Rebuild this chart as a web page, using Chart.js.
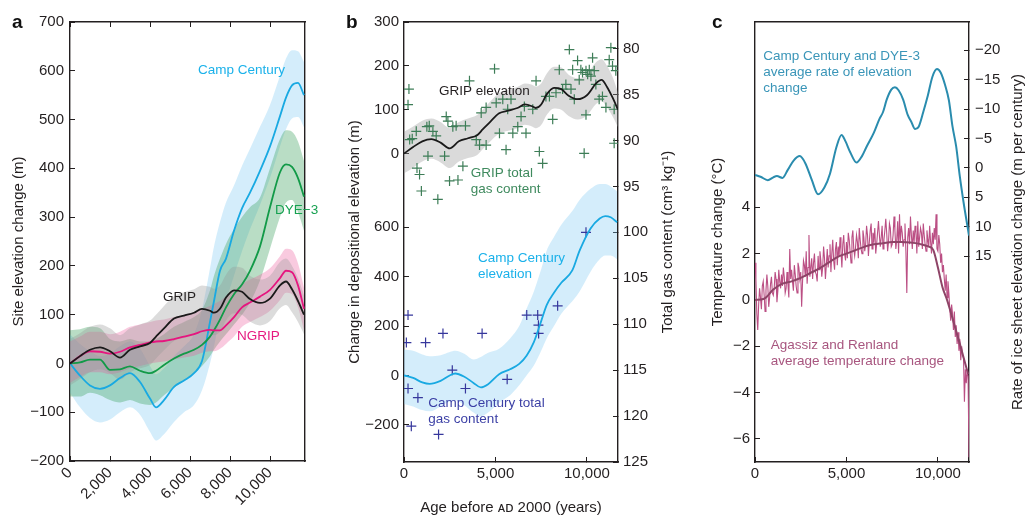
<!DOCTYPE html>
<html>
<head>
<meta charset="utf-8">
<script src="https://cdn.jsdelivr.net/npm/chart.js@4.4.1/dist/chart.umd.min.js"></script>
<style>
  body { margin: 0; background: #fff; width: 1027px; height: 517px; position: relative; overflow: hidden; }
  canvas { position: absolute; top: 0; }
  .tag { position: absolute; top: 12px; font: bold 19px 'Liberation Sans', Arial, sans-serif; line-height: 19px; color: #111; z-index: 2; }
</style>
</head>
<body>
<div class="tag" style="left:12px">a</div>
<div class="tag" style="left:346px">b</div>
<div class="tag" style="left:712px">c</div>
<canvas id="chartA" width="330" height="517" style="left:0"></canvas>
<canvas id="chartB" width="360" height="517" style="left:330px"></canvas>
<canvas id="chartC" width="337" height="517" style="left:690px"></canvas>
<script>
const FONT = "'Liberation Sans', Arial, Helvetica, sans-serif";
const INK = '#231f20';
Chart.defaults.font.family = FONT;
Chart.defaults.font.size = 15;
Chart.defaults.color = INK;
Chart.defaults.animation = false;

// ---- panel a: site elevation change ----
const aYears = [0, 500, 1000, 1500, 2000, 2500, 3000, 3500, 4000, 4300, 4700, 5200, 5700, 6200, 6600,
  7000, 7200, 7500, 7800, 8200, 8600, 9000, 9500, 10000, 10500, 10800, 11100, 11400, 11700];
const campCentury = [0, -25, -45, -52, -45, -30, -20, -38, -72, -90, -75, -48, -35, -20, 5,
  85, 128, 190, 215, 272, 318, 350, 395, 445, 507, 545, 570, 575, 550];
const ccUpper = [60, 40, 25, 15, 20, 35, 45, 30, -5, -22, -10, 15, 35, 60, 110,
  195, 240, 290, 330, 365, 405, 440, 485, 530, 590, 625, 642, 640, 618];
const ccLower = [-60, -90, -112, -121, -115, -100, -90, -105, -140, -158, -145, -120, -100, -85, -55,
  0, 35, 97, 130, 180, 230, 275, 325, 380, 445, 480, 502, 505, 484];
const dye3 = [0, 2, 8, 8, -13, -12, -6, -15, -20, -15, -3, 10, 20, 28, 38,
  55, 68, 90, 115, 142, 162, 190, 240, 320, 392, 408, 403, 380, 342];
const dyeUpper = [68, 70, 75, 72, 50, 45, 50, 45, 45, 50, 60, 75, 85, 95, 110,
  150, 180, 215, 245, 275, 300, 320, 340, 400, 460, 478, 475, 455, 415];
const dyeLower = [-68, -68, -60, -65, -75, -80, -75, -82, -85, -80, -65, -50, -35, -20, -5,
  15, 28, 45, 60, 80, 100, 125, 170, 235, 300, 330, 335, 310, 272];
const ngrip = [0, 15, 25, 24, 20, 24, 33, 38, 43, 45, 46, 50, 55, 60, 66,
  69, 68, 68, 78, 95, 115, 125, 137, 151, 175, 190, 187, 160, 112];
const ngripUpper = [45, 55, 65, 65, 60, 65, 75, 80, 85, 88, 90, 95, 100, 105, 112,
  118, 122, 128, 138, 150, 162, 172, 182, 195, 220, 235, 232, 205, 155];
const ngripLower = [-40, -28, -18, -18, -22, -18, -10, -5, 0, 2, 4, 8, 12, 16, 22,
  25, 25, 30, 40, 55, 75, 85, 95, 108, 130, 145, 142, 115, 68];
const grip = [0, 15, 28, 33, 25, 12, 28, 35, 42, 55, 72, 92, 98, 104, 112,
  108, 104, 112, 135, 150, 147, 132, 124, 133, 160, 168, 152, 128, 100];
const gripUpper = [50, 62, 75, 80, 72, 58, 72, 80, 88, 100, 118, 138, 146, 152, 160,
  157, 153, 160, 182, 198, 196, 180, 172, 180, 208, 215, 200, 175, 140];
const gripLower = [-45, -32, -18, -12, -20, -33, -18, -10, -3, 10, 27, 46, 52, 58, 66,
  62, 58, 65, 88, 103, 100, 86, 78, 87, 113, 120, 105, 85, 60];
const aTicksX = [0, 2000, 4000, 6000, 8000, 10000];
const aTicksY = [-200, -100, 0, 100, 200, 300, 400, 500, 600, 700];

// ---- panel b: depositional elevation and total gas content ----
const bYears = [0, 500, 1000, 1400, 2000, 2500, 2800, 3300, 3800, 4200, 4600, 5200, 5800, 6300,
  6700, 7100, 7500, 7800, 8200, 8600, 9200, 9600, 10200, 10700, 11000, 11300, 11650];
const ccElev = [0, -10, -28, -34, -22, 0, 8, -5, -30, -48, -35, 5, 25, 47,
  80, 135, 220, 285, 335, 375, 425, 505, 595, 635, 645, 640, 620];
const ccElevUp = [105, 100, 85, 78, 82, 95, 100, 88, 65, 75, 92, 108, 150, 200,
  270, 340, 430, 505, 560, 610, 665, 710, 755, 775, 775, 765, 745];
const ccElevLow = [-115, -125, -140, -145, -125, -105, -100, -120, -150, -165, -150, -110, -80, -40,
  0, 40, 100, 150, 200, 250, 300, 340, 420, 470, 485, 485, 470];
const gripGasYears = [270, 220, 310, 450, 670, 710, 850, 950, 1250, 1310, 1380, 1580, 1760, 1850,
  2220, 2310, 2400, 2490, 2670, 2850, 2950, 3220, 3360, 3580, 3950, 4130, 4220, 4490, 4490, 4950,
  5040, 5220, 5400, 5580, 5670, 5850, 5950, 6220, 6400, 6670, 6580, 7040, 7220, 7400, 7580, 7760,
  7950, 8130, 8310, 8490, 8670, 8850, 9040, 9130, 9220, 9310, 9490, 9580, 9670, 9760, 9850, 9950,
  9950, 10040, 10130, 10220, 10310, 10400, 10490, 10670, 10850, 11040, 11220, 11310, 11400, 11490,
  11580, 11490];
const gripGas = [84.4, 86.1, 89.9, 89.8, 89.0, 93.0, 93.7, 95.5, 88.5, 91.7, 88.4, 89.0, 89.5, 96.4,
  91.7, 87.4, 87.9, 94.4, 88.5, 88.4, 94.3, 92.8, 88.4, 83.5, 89.9, 90.5, 87.0, 90.5, 86.4, 82.2,
  85.9, 89.2, 85.5, 91.0, 86.6, 85.5, 89.2, 88.5, 87.4, 89.2, 86.3, 86.6, 83.5, 91.2, 92.5, 85.2,
  85.2, 87.7, 84.8, 82.3, 84.4, 83.9, 80.1, 84.4, 82.3, 85.5, 81.3, 83.4, 82.3, 82.6, 91.4, 82.4,
  87.2, 82.8, 82.3, 83.0, 81.0, 82.4, 83.9, 85.5, 85.2, 86.4, 81.2, 79.9, 81.9, 90.3,
  82.4, 86.6];
const ccGasYears = [220, 130, 220, 400, 760, 1180, 1890, 2130, 2640, 3360, 4270, 5640, 6710, 7310,
  7350, 7360, 8400, 9950];
const ccGas = [109.0, 112.0, 117.0, 121.1, 118.0, 112.0, 122.0, 111.0, 115.0, 117.0, 111.0, 116.0,
  109.0, 109.0, 110.1, 111.0, 108.0, 100.0];
const bTicksX = [0, 5000, 10000];
const bTicksGrip = [0, 100, 200, 300];
const bTicksCC = [-200, 0, 200, 400, 600];
const bTicksGas = [80, 85, 90, 95, 100, 105, 110, 115, 120, 125];

// ---- panel c: rate of elevation change and temperature ----
const rateYears = [0, 300, 700, 1000, 1200, 1500, 1800, 2100, 2450, 2750, 3100, 3450, 3800, 4100,
  4450, 4730, 4950, 5200, 5550, 5850, 6100, 6500, 6800, 7000, 7200, 7450, 7650, 7850, 8100, 8350,
  8550, 8750, 8950, 9200, 9450, 9700, 9950, 10150, 10400, 10600, 10800, 11000, 11200, 11400, 11700];
const rateVals = [1.2, 1.5, 2.1, 1.6, 1.4, 1.7, 0.3, -1.2, -2.0, -0.8, 2.0, 4.5, 3.3, 1.0,
  -3.5, -5.6, -4.5, -2.7, -0.9, -2.0, -3.6, -6.0, -8.3, -9.5, -11.6, -13.3, -13.7, -13.2, -11.6, -9.0,
  -7.8, -6.6, -7.0, -9.5, -12.3, -15.5, -16.8, -16.2, -14.0, -11.5, -7.0, -3.6, 1.5, 5.8, 11.5];
const tempStep = 50; // years between temperature samples
const tempVals = [
  1.6, 0.9, -0.6, -1.3, -0.2, 0.5, 0.1, -0.4, 0.6, 0.8,
  0.2, -0.5, 0.4, 1.1, 0.6, -0.3, 0.1, 0.7, 1.0, 0.3,
  0.2, 0.5, 1.2, 0.9, -0.1, 0.4, 1.3, 0.8, 0.5, 1.1,
  0.6, 1.4, 1.0, 0.3, 0.5, 1.2, 0.7, 0.1, 2.2, 0.9,
  1.3, 0.8, 0.4, 1.5, 1.1, 0.6, 0.3, 1.6, 1.4, 0.9,
  1.2, -0.3, 0.8, 1.7, 1.5, 1.0, 2.1, 0.7, 1.4, 2.8,
  1.0, 1.4, 1.8, 0.9, 1.6, 2.0, 1.2, 1.1, 0.8, 1.9,
  1.3, 2.1, 1.7, 1.0, 1.4, 2.3, 1.8, 0.9, 1.5, 2.2,
  1.4, 1.9, 2.4, 1.2, 2.0, 2.6, 1.7, 1.3, 2.2, 2.5,
  1.5, 2.3, 1.9, 2.7, 2.1, 1.4, 2.4, 2.8, 2.0, 1.7,
  2.5, 1.8, 2.9, 2.6, 2.1, 1.6, 2.7, 3.0, 2.2, 1.9,
  2.3, 2.8, 2.5, 1.8, 3.1, 2.6, 2.2, 2.0, 3.0, 2.7,
  2.1, 2.4, 3.2, 2.8, 1.9, 2.5, 3.0, 3.3, 2.2, 2.9,
  2.6, 3.1, 2.0, 2.4, 2.9, 3.4, 2.8, 2.3, 2.7, 3.2,
  2.2, 2.6, 3.0, 3.5, 2.9, 2.1, 2.5, 3.3, 3.1, 2.3,
  2.4, 2.8, 3.6, 3.0, 2.2, 2.6, 3.4, 2.0, 3.7, 2.5,
  3.2, 2.9, 2.3, 2.6, 3.3, 2.1, 0.3, 2.7, 3.1, 2.4,
  3.6, 2.8, 2.2, 3.0, 2.5, 3.2, 2.9, 2.0, 3.4, 2.3,
  2.7, 3.1, 2.9, 2.2, 3.3, 2.8, 2.4, 2.1, 3.0, 2.6,
  2.3, 3.2, 2.5, 2.0, 2.9, 2.4, 3.1, 2.6, 3.7, 2.2,
  2.1, 2.8, 2.4, 1.6, 2.0, 1.2, 1.5, 0.9, 0.4, 1.1,
  0.1, 0.8, 0.3, -0.4, -0.9, -0.2, -0.6, -1.3, -0.5, -1.6,
  -1.1, -1.9, -1.4, -2.2, -1.7, -2.6, -2.0, -2.4, -2.5, -4.4,
  -3.0, -3.6, -3.1, -3.3, -6.8];
const tempSmoothYears = [0, 500, 1000, 1500, 2000, 2500, 3000, 3500, 4000, 4500, 5000, 5500, 6000,
  6500, 7000, 7500, 8000, 8500, 9000, 9500, 9750, 10000, 10250, 10500, 10800, 11200, 11650];
const tempSmooth = [0, 0.05, 0.45, 0.7, 0.8, 0.95, 1.15, 1.35, 1.6, 1.85, 2.0, 2.15, 2.3,
  2.4, 2.45, 2.5, 2.5, 2.48, 2.42, 2.3, 2.15, 1.4, 0.55, 0.0, -0.8, -1.9, -3.2];
const cTicksX = [0, 5000, 10000];
const cTicksTemp = [-6, -4, -2, 0, 2, 4];
const cTicksRate = [-20, -15, -10, -5, 0, 5, 10, 15];

// ---- helpers ----
const pts = (xs, ys) => xs.map((x, i) => ({ x, y: ys[i] }));
const fmt = v => (v < 0 ? '\u2212' : '') + Math.abs(v).toLocaleString('en-US');
const size = px => s => { if (s.isHorizontal()) s.height = px; else s.width = px; };
const fixedTicks = list => s => { s.ticks = list.map(v => ({ value: v })); };
const inTicks = { drawOnChartArea: false, drawTicks: true, tickLength: -5, color: INK, lineWidth: 1 };
const edge = { display: true, color: INK, width: 1.4 };

function line(xs, ys, color, yAxisID, width) {
  return { data: pts(xs, ys), borderColor: color, borderWidth: width || 1.8, pointRadius: 0,
    cubicInterpolationMode: 'monotone', fill: false, xAxisID: 'x', yAxisID, order: 0 };
}
function band(xs, upper, lower, color, yAxisID, order) {
  return [
    { data: pts(xs, upper), borderWidth: 0, backgroundColor: color, fill: '+1', pointRadius: 0,
      cubicInterpolationMode: 'monotone', xAxisID: 'x', yAxisID, order },
    { data: pts(xs, lower), borderWidth: 0, fill: false, pointRadius: 0,
      cubicInterpolationMode: 'monotone', xAxisID: 'x', yAxisID, order }
  ];
}
function crosses(xs, ys, color, yAxisID) {
  return { type: 'scatter', data: pts(xs, ys), pointStyle: 'cross', pointRadius: 5,
    borderColor: color, borderWidth: 1.2, xAxisID: 'x', yAxisID, order: 0 };
}

// text written inside the plot, placed with the chart's own scales
function notesPlugin(items) {
  return {
    id: 'notes',
    afterDatasetsDraw(chart) {
      const ctx = chart.ctx;
      ctx.save();
      ctx.font = '13.5px ' + FONT;
      ctx.textBaseline = 'middle';
      ctx.textAlign = 'left';
      items.forEach(n => {
        const x = chart.scales.x.getPixelForValue(n.x);
        const y = chart.scales[n.axis].getPixelForValue(n.y);
        ctx.fillStyle = n.color;
        n.text.forEach((t, i) => ctx.fillText(t, x, y + i * 16));
      });
      ctx.restore();
    }
  };
}

// right-hand axis title that reads bottom to top, like the left ones
function sideTitle(axis, text, inset) {
  return {
    id: 'sideTitle',
    afterDraw(chart) {
      const s = chart.scales[axis];
      const ctx = chart.ctx;
      ctx.save();
      ctx.translate(s.right - inset, (s.top + s.bottom) / 2);
      ctx.rotate(-Math.PI / 2);
      ctx.font = '15px ' + FONT;
      ctx.fillStyle = INK;
      ctx.textAlign = 'center';
      ctx.textBaseline = 'middle';
      ctx.fillText(text, 0, 0);
      ctx.restore();
    }
  };
}

const noLayoutPad = { padding: 0 };

// ---- chart a ----
new Chart(document.getElementById('chartA'), {
  type: 'line',
  data: {
    datasets: [
      line(aYears, grip, '#1a1a1a', 'y'),
      line(aYears, ngrip, '#e6157f', 'y'),
      line(aYears, dye3, '#129a48', 'y'),
      line(aYears, campCentury, '#19a9e2', 'y'),
      ...band(aYears, gripUpper, gripLower, 'rgba(150,150,150,0.33)', 'y', 1),
      ...band(aYears, ngripUpper, ngripLower, 'rgba(236,80,150,0.3)', 'y', 2),
      ...band(aYears, dyeUpper, dyeLower, 'rgba(60,160,95,0.36)', 'y', 3),
      ...band(aYears, ccUpper, ccLower, 'rgba(120,200,242,0.32)', 'y', 4)
    ]
  },
  options: {
    responsive: false,
    layout: noLayoutPad,
    plugins: { legend: { display: false }, tooltip: { enabled: false } },
    scales: {
      x: { type: 'linear', position: 'bottom', min: 0, max: 11750,
        afterBuildTicks: fixedTicks(aTicksX), afterFit: size(56),
        ticks: { callback: fmt, minRotation: 45, maxRotation: 45, padding: 8, autoSkip: false },
        grid: inTicks, border: edge },
      xt: { type: 'linear', position: 'top', min: 0, max: 11750,
        afterBuildTicks: fixedTicks(aTicksX), afterFit: size(22),
        ticks: { display: false }, grid: inTicks, border: edge },
      y: { type: 'linear', position: 'left', min: -200, max: 700,
        afterBuildTicks: fixedTicks(aTicksY), afterFit: size(70),
        ticks: { callback: fmt, padding: 11, autoSkip: false },
        grid: inTicks, border: edge,
        title: { display: true, text: 'Site elevation change (m)', padding: { top: 10, bottom: 0 } } },
      yr: { type: 'linear', position: 'right', min: -200, max: 700, afterFit: size(25),
        ticks: { display: false }, grid: { display: false }, border: edge }
    }
  },
  plugins: [notesPlugin([
    { text: ['Camp Century'], x: 6400, y: 602, axis: 'y', color: '#1ab1ea' },
    { text: ['DYE\u22123'], x: 10250, y: 314, axis: 'y', color: '#17a151' },
    { text: ['GRIP'], x: 4650, y: 135, axis: 'y', color: '#231f20' },
    { text: ['NGRIP'], x: 8350, y: 55, axis: 'y', color: '#e6197f' }
  ])]
});

// ---- chart b ----
const elevMin = -350, elevMax = 1430, gripMin = -703, gripMax = 300;
const gripToElev = v => elevMin + (v - gripMin) / (gripMax - gripMin) * (elevMax - elevMin);

new Chart(document.getElementById('chartB'), {
  type: 'line',
  data: {
    datasets: [
      line(aYears, grip, '#1a1a1a', 'yG'),
      line(bYears, ccElev, '#19a9e2', 'yC'),
      crosses(gripGasYears, gripGas, '#3d7d57', 'yGas'),
      crosses(ccGasYears, ccGas, '#36379c', 'yGas'),
      ...band(aYears, gripUpper, gripLower, 'rgba(150,150,150,0.35)', 'yG', 1),
      ...band(bYears, ccElevUp, ccElevLow, 'rgba(120,200,242,0.32)', 'yC', 2)
    ]
  },
  options: {
    responsive: false,
    layout: noLayoutPad,
    plugins: { legend: { display: false }, tooltip: { enabled: false } },
    scales: {
      x: { type: 'linear', position: 'bottom', min: 0, max: 11700,
        afterBuildTicks: fixedTicks(bTicksX), afterFit: size(55),
        ticks: { callback: fmt, padding: 8, maxRotation: 0, autoSkip: false },
        grid: inTicks, border: edge,
        title: { display: true, text: 'Age before \u1D00\u1D05 2000 (years)', padding: { top: 0, bottom: 0 } } },
      xt: { type: 'linear', position: 'top', min: 0, max: 11700, afterFit: size(22),
        ticks: { display: false }, grid: { display: false }, border: edge },
      yL: { type: 'linear', position: 'left', min: elevMin, max: elevMax, afterFit: size(74),
        afterBuildTicks: s => {
          s.ticks = bTicksCC.map(v => ({ value: v, txt: fmt(v) }))
            .concat(bTicksGrip.map(v => ({ value: gripToElev(v), txt: fmt(v) })));
        },
        ticks: { callback: (v, i, t) => t[i].txt, padding: 10, autoSkip: false },
        grid: inTicks, border: edge,
        title: { display: true, text: 'Change in depositional elevation (m)', padding: { top: 16, bottom: 0 } } },
      yG: { type: 'linear', display: false, min: gripMin, max: gripMax },
      yC: { type: 'linear', display: false, min: elevMin, max: elevMax },
      yGas: { type: 'linear', position: 'right', reverse: true, min: 77.1, max: 125,
        afterBuildTicks: fixedTicks(bTicksGas), afterFit: size(72),
        ticks: { padding: 10, autoSkip: false }, grid: inTicks, border: edge }
    }
  },
  plugins: [
    notesPlugin([
      { text: ['GRIP elevation'], x: 1915, y: 142, axis: 'yG', color: '#231f20' },
      { text: ['GRIP total', 'gas content'], x: 3650, y: 93.6, axis: 'yGas', color: '#3f8a5e' },
      { text: ['Camp Century', 'elevation'], x: 4050, y: 474, axis: 'yC', color: '#1ab1ea' },
      { text: ['Camp Century total', 'gas content'], x: 1330, y: -111, axis: 'yC', color: '#3b3fa5' }
    ]),
    sideTitle('yGas', 'Total gas content (cm\u00B3 kg\u207B\u00B9)', 22)
  ]
});

// ---- chart c ----
new Chart(document.getElementById('chartC'), {
  type: 'line',
  data: {
    datasets: [
      line(rateYears, rateVals, '#2a8cae', 'yR', 2),
      line(tempSmoothYears, tempSmooth, '#8e4467', 'yT', 2),
      { data: tempVals.map((v, i) => ({ x: i * tempStep, y: v })), borderColor: '#bb4f84',
        borderWidth: 1.1, pointRadius: 0, tension: 0, fill: false, xAxisID: 'x', yAxisID: 'yT', order: 1 }
    ]
  },
  options: {
    responsive: false,
    layout: noLayoutPad,
    plugins: { legend: { display: false }, tooltip: { enabled: false } },
    scales: {
      x: { type: 'linear', position: 'bottom', min: 0, max: 11700,
        afterBuildTicks: fixedTicks(cTicksX), afterFit: size(55),
        ticks: { callback: fmt, padding: 8, maxRotation: 0, autoSkip: false },
        grid: inTicks, border: edge },
      xt: { type: 'linear', position: 'top', min: 0, max: 11700, afterFit: size(22),
        ticks: { display: false }, grid: { display: false }, border: edge },
      yT: { type: 'linear', position: 'left', min: -7, max: 12,
        afterBuildTicks: fixedTicks(cTicksTemp), afterFit: size(65),
        ticks: { callback: fmt, padding: 10, autoSkip: false }, grid: inTicks, border: edge,
        title: { display: true, text: 'Temperature change (\u00B0C)', padding: { top: 19, bottom: 0 } } },
      yR: { type: 'linear', position: 'right', reverse: true, min: -24.8, max: 50,
        afterBuildTicks: fixedTicks(cTicksRate), afterFit: size(58),
        ticks: { callback: fmt, padding: 11, autoSkip: false }, grid: inTicks, border: edge }
    }
  },
  plugins: [
    notesPlugin([
      { text: ['Camp Century and DYE-3', 'average rate of elevation', 'change'], x: 450, y: -18.9,
        axis: 'yR', color: '#3a95b8' },
      { text: ['Agassiz and Renland', 'average temperature change'], x: 860, y: -1.94,
        axis: 'yT', color: '#a8567f' }
    ]),
    sideTitle('yR', 'Rate of ice sheet elevation change (m per century)', 9)
  ]
});
</script>
</body>
</html>
